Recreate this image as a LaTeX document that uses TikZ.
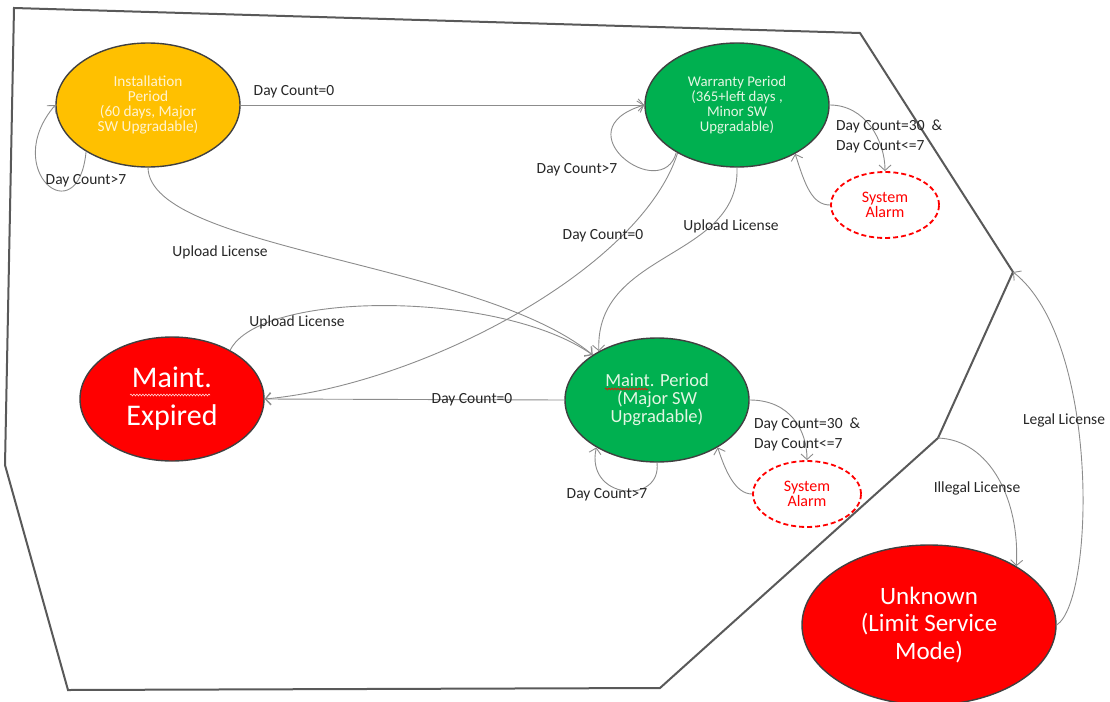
\documentclass[tikz,border=0pt]{standalone}
\usepackage{fontspec}
\setmainfont{Carlito}
\usetikzlibrary{shapes.geometric,arrows.meta,decorations.pathmorphing}
\definecolor{orng}{HTML}{FFC000}
\definecolor{grn}{HTML}{00B050}
\definecolor{rd}{HTML}{FF0000}
\definecolor{edge}{HTML}{404040}
\definecolor{wall}{HTML}{595959}
\definecolor{conncol}{HTML}{8C8C8C}
\definecolor{creamtxt}{HTML}{FFF3D0}
\definecolor{minttxt}{HTML}{E3F6E3}
\definecolor{pinksq}{HTML}{FFD6D6}
\begin{document}
\begin{tikzpicture}[x=1pt,y=-1pt,
  state/.style={ellipse,draw=edge,line width=1.4pt,minimum width=184pt,minimum height=124pt,inner sep=0pt,align=center},
  alarm/.style={ellipse,draw=rd,line width=1.8pt,dash pattern=on 5pt off 3pt,minimum width=108pt,minimum height=66pt,inner sep=0pt,align=center,text=rd,font=\fontsize{16}{15}\selectfont},
  conn/.style={draw=conncol,line width=0.9pt,-{Straight Barb[length=5.5pt,width=12pt]}},
  lbl/.style={font=\fontsize{15.5}{20}\selectfont,inner sep=0pt,text=black!85,align=left},
  wallline/.style={draw=wall,line width=2pt,line join=miter},
  squig/.style={line width=0.6pt,decorate,decoration={snake,amplitude=0.9pt,segment length=3pt}}
]
\useasboundingbox (0,0) rectangle (1110,701);

% boundary
\coordinate (p1) at (14,8);
\coordinate (p2) at (860,33);
\coordinate (v1) at (1013,272);
\coordinate (k1) at (938,438);
\coordinate (p5) at (660,688);
\coordinate (p6) at (68,690);
\coordinate (p7) at (5,465);
\draw[wallline] (p1) -- (p2) -- (v1) -- (k1) -- (p5) -- (p6) -- (p7) -- cycle;

% states
\node[state,fill=orng,text=creamtxt,font=\fontsize{15.3}{14.7}\selectfont] (inst) at (148,105) {Installation\\Period\\(60 days, Major\\SW Upgradable)};
\node[state,fill=grn,text=minttxt,font=\fontsize{14.8}{15}\selectfont] (warr) at (737,105) {Warranty Period\\(365+left days ,\\Minor SW\\Upgradable)};
\node[state,fill=grn,text=minttxt,font=\fontsize{18.5}{18}\selectfont] (maint) at (657,400) {Maint. Period\\(Major SW\\Upgradable)};
\node[state,fill=rd,text=white,font=\fontsize{30}{38}\selectfont] (exp) at (172,399) {Maint.\\Expired};
\node[state,fill=rd,text=white,font=\fontsize{25}{27.5}\selectfont,minimum width=254pt,minimum height=160pt] (unk) at (929,625) {Unknown\\(Limit Service\\Mode)};
\node[alarm] (al1) at (885,205) {System\\Alarm};
\node[alarm] (al2) at (807,494) {System\\Alarm};

% spell-check squiggles
\draw[squig,draw=rd] (605,389) -- (648,389);
\draw[squig,draw=pinksq] (130,395) -- (210,395);

% connectors
\draw[conn] (inst.east) -- (warr.west);
\node[lbl] (l1) at (294,92) {Day Count=0};

\draw[conn] (inst.217) .. controls (78,235) and (0,170) .. (inst.west);
\node[lbl] (l2) at (86,181) {Day Count>7};

\draw[conn] (inst.south) .. controls (150,250) and (480,262) .. (maint.145);
\node[lbl] (l3) at (220,252) {Upload License};

\draw[conn] (warr.218) .. controls (662,205) and (560,130) .. (warr.west);
\node[lbl] (l4) at (577,170) {Day Count>7};

\draw[conn] (warr.219) .. controls (640,270) and (420,385) .. (exp.east);
\node[lbl] (l5) at (603,236) {Day Count=0};

\draw[conn] (warr.south) .. controls (740,260) and (595,250) .. (maint.140);
\node[lbl] (l6) at (731,226) {Upload License};

\draw[conn] (warr.east) .. controls (865,105) and (885,140) .. (al1.north);
\draw[conn] (al1.west) .. controls (812,205) and (805,185) .. (warr.-40);
\node[lbl,anchor=west] (l7) at (836,136) {Day Count=30\ \ \&\\Day Count<=7};

\draw[conn] (exp.40) .. controls (260,290) and (500,290) .. (maint.145);
\node[lbl] (l8) at (297,322) {Upload License};

\draw[conn] (maint.west) -- (exp.east);
\node[lbl] (l9) at (472,400) {Day Count=0};

\draw[conn] (maint.south) .. controls (662,505) and (585,500) .. (maint.218);
\node[lbl] (l10) at (607,495) {Day Count>7};

\draw[conn] (maint.east) .. controls (790,400) and (807,430) .. (al2.north);
\draw[conn] (al2.west) .. controls (735,494) and (725,470) .. (maint.-38);
\node[lbl,anchor=west] (l11) at (754,434) {Day Count=30\ \ \&\\Day Count<=7};

\draw[conn] (k1) .. controls (990,440) and (1020,500) .. (unk.34);
\node[lbl] (l12) at (977,488) {Illegal License};

\draw[conn] (unk.east) .. controls (1095,600) and (1100,340) .. (v1);
\node[lbl] (l13) at (1064,420) {Legal License};
\end{tikzpicture}
\end{document}
